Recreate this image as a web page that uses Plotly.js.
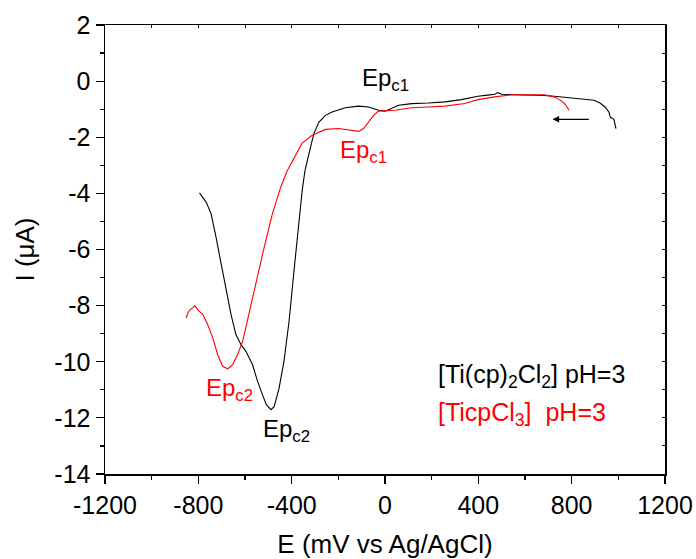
<!DOCTYPE html>
<html>
<head>
<meta charset="utf-8">
<script src="https://cdn.plot.ly/plotly-3.0.1.min.js"></script>
<style>html,body{margin:0;padding:0;background:#fff;}#chart{width:696px;height:559px;}</style>
</head>
<body>
<div id="chart"></div>
<script>
// [Ti(cp)2Cl2] pH=3  (black), scan from +1000 to -800 mV
const blackE = [990, 981, 966, 960, 944, 923, 896, 853, 811, 782, 768, 725, 683, 612, 541, 500, 484, 470, 440, 398, 327, 257, 185, 114, 58, 29, 1, -28, -70, -113, -170, -227, -255, -283, -305, -326, -343, -355, -369, -390, -411, -433, -454, -475, -489, -508, -525, -546, -568, -596, -617, -639, -660, -681, -702, -724, -745, -766, -781, -795];
const blackI = [-1.69, -1.36, -1.29, -1.11, -0.93, -0.79, -0.68, -0.64, -0.62, -0.60, -0.58, -0.54, -0.51, -0.49, -0.48, -0.47, -0.41, -0.47, -0.50, -0.54, -0.66, -0.74, -0.78, -0.80, -0.86, -0.98, -1.07, -1.04, -0.92, -0.89, -0.95, -1.10, -1.22, -1.46, -1.87, -2.59, -3.19, -3.90, -4.97, -6.76, -8.55, -9.99, -10.94, -11.60, -11.71, -11.54, -11.18, -10.70, -10.10, -9.63, -9.39, -9.03, -8.31, -7.36, -6.52, -5.57, -4.74, -4.32, -4.14, -3.98];

// [TicpCl3] pH=3 (red), scan from +800 to -850 mV
const redE = [789, 768, 745, 725, 683, 612, 541, 470, 398, 342, 257, 185, 114, 43, 1, -28, -49, -70, -92, -113, -142, -198, -255, -312, -355, -397, -419, -447, -483, -518, -553, -589, -610, -632, -653, -674, -696, -717, -738, -760, -781, -802, -815, -824, -835, -845, -852];
const redI = [-1.04, -0.78, -0.65, -0.56, -0.49, -0.48, -0.49, -0.56, -0.66, -0.80, -0.89, -0.92, -0.95, -1.04, -1.07, -1.07, -1.22, -1.46, -1.69, -1.79, -1.75, -1.69, -1.72, -1.93, -2.21, -2.83, -3.19, -3.78, -4.74, -5.93, -7.24, -8.55, -9.27, -9.75, -10.10, -10.25, -10.16, -9.75, -9.15, -8.67, -8.31, -8.16, -8.00, -8.08, -8.14, -8.26, -8.44];

const xTickVals = [-1200, -800, -400, 0, 400, 800, 1200];
const yTickVals = [2, 0, -2, -4, -6, -8, -10, -12, -14];

const FONT = 'Liberation Sans, Arial, sans-serif';

const traces = [
  {x: blackE, y: blackI, type: 'scatter', mode: 'lines', line: {color: '#000000', width: 1.1}, showlegend: false, hoverinfo: 'skip'},
  {x: redE, y: redI, type: 'scatter', mode: 'lines', line: {color: '#ff0000', width: 1.1}, showlegend: false, hoverinfo: 'skip'},
  {x: [], y: [], xaxis: 'x2', yaxis: 'y2', type: 'scatter', showlegend: false}
];

const layout = {
  width: 696, height: 559,
  margin: {l: 105, r: 31, t: 25, b: 85},
  paper_bgcolor: '#fff', plot_bgcolor: '#fff',
  font: {family: FONT, size: 25, color: '#000'},
  xaxis: {
    range: [-1200, 1200], tickvals: xTickVals, ticktext: xTickVals.map(String),
    ticks: 'outside', ticklen: 8, tickwidth: 1.2, tickcolor: '#000',
    minor: {dtick: 200, tick0: 0, ticks: 'outside', ticklen: 4, tickwidth: 1.2, tickcolor: '#000'},
    showline: true, linecolor: '#000', linewidth: 1.5,
    showgrid: false, zeroline: false,
    tickfont: {size: 25},
    title: {text: 'E (mV vs Ag/AgCl)', font: {size: 26}, standoff: 17}
  },
  yaxis: {
    range: [-14, 2], tickvals: yTickVals, ticktext: yTickVals.map(String),
    ticks: 'outside', ticklen: 8, tickwidth: 1.2, tickcolor: '#000',
    minor: {dtick: 1, tick0: 0, ticks: 'outside', ticklen: 4, tickwidth: 1.2, tickcolor: '#000'},
    showline: true, linecolor: '#000', linewidth: 1.5,
    showgrid: false, zeroline: false,
    tickfont: {size: 25},
    title: {text: 'I (μA)', font: {size: 26}, standoff: 12}
  },
  xaxis2: {
    overlaying: 'x', side: 'top', range: [-1200, 1200], dtick: 200, tick0: 0,
    ticks: 'inside', ticklen: 3, tickcolor: '#000', showticklabels: false,
    showline: true, linecolor: '#000', linewidth: 1.5, showgrid: false, zeroline: false
  },
  yaxis2: {
    overlaying: 'y', side: 'right', range: [-14, 2], dtick: 1, tick0: 0,
    ticks: 'inside', ticklen: 3, tickcolor: '#000', showticklabels: false,
    showline: true, linecolor: '#000', linewidth: 1.5, showgrid: false, zeroline: false
  },
  annotations: [
    {x: 0, y: 0.05, text: 'Ep<sub>c1</sub>', showarrow: false, font: {size: 24, color: '#000'}, xanchor: 'center', yanchor: 'middle'},
    {x: -92, y: -2.5, text: 'Ep<sub>c1</sub>', showarrow: false, font: {size: 24, color: '#ff0000'}, xanchor: 'center', yanchor: 'middle'},
    {x: -667, y: -11.0, text: 'Ep<sub>c2</sub>', showarrow: false, font: {size: 24, color: '#ff0000'}, xanchor: 'center', yanchor: 'middle'},
    {x: -424, y: -12.45, text: 'Ep<sub>c2</sub>', showarrow: false, font: {size: 24, color: '#000'}, xanchor: 'center', yanchor: 'middle'},
    {x: 220, y: -10.5, text: '[Ti(cp)<sub>2</sub>Cl<sub>2</sub>] pH=3', showarrow: false, font: {size: 25, color: '#000'}, xanchor: 'left', yanchor: 'middle'},
    {x: 220, y: -11.85, text: '[TicpCl<sub>3</sub>]  pH=3', showarrow: false, font: {size: 25, color: '#ff0000'}, xanchor: 'left', yanchor: 'middle'},
    {x: 718, y: -1.36, ax: 880, ay: -1.36, axref: 'x', ayref: 'y', text: '', showarrow: true, arrowhead: 2, arrowsize: 1.1, arrowwidth: 1.2, arrowcolor: '#000'}
  ]
};

Plotly.newPlot('chart', traces, layout, {staticPlot: true, displayModeBar: false});
</script>
</body>
</html>
